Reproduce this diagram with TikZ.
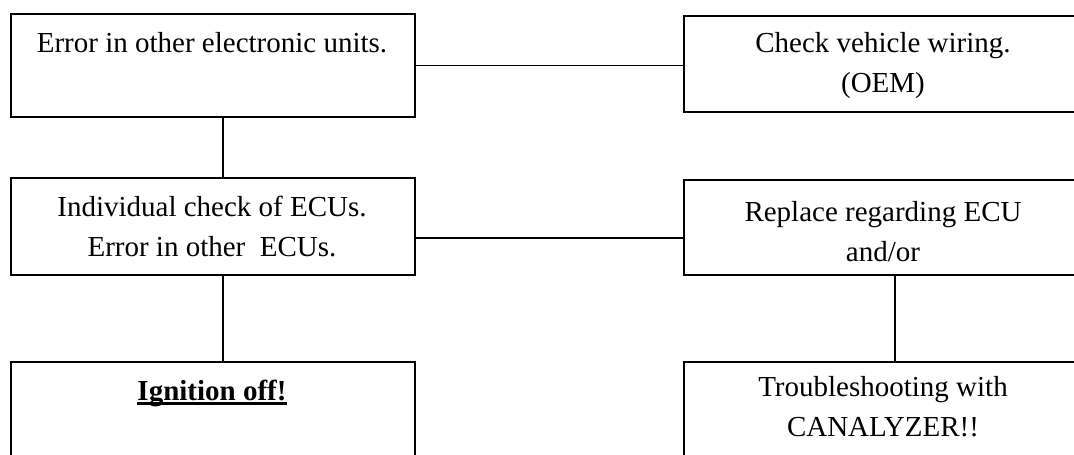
\documentclass[tikz,border=0pt]{standalone}
\usepackage{fontspec}
\setmainfont{Liberation Serif}
\usepackage{tikz}
\usetikzlibrary{calc, positioning}

\tikzset{
  box/.style={draw, line width=2pt, inner sep=0pt, anchor=north west},
  leftbox/.style={box, minimum width=404pt},
  rightbox/.style={box, minimum width=400pt},
  txt/.style={inner sep=0pt, align=center, anchor=base, font=\fontsize{29}{40}\selectfont},
  link/.style={line width=1.5pt}
}

\begin{document}
\begin{tikzpicture}[x=1pt, y=-1pt]
    \useasboundingbox (0,0) rectangle (1074,455);
    \clip (0,0) rectangle (1074,455);

    % boxes, left column
    \node[leftbox, minimum height=103pt] (err) at (10,13) {};
    \node[leftbox, minimum height=97pt] (indiv) at (10,177) {};
    \node[leftbox, minimum height=110pt] (ign) at (10,361) {};

    % boxes, right column
    \node[rightbox, minimum height=96pt] (wiring) at (683,15) {};
    \node[rightbox, minimum height=95pt] (replace) at (683,179) {};
    \node[rightbox, minimum height=110pt] (canal) at (683,361) {};

    % texts (base = last line)
    \node[txt] (errt) at (212,52) {Error in other electronic units.};
    \node[txt] (wiringt) at (883,92) {Check vehicle wiring.\\(OEM)};
    \node[txt] (indivt) at (212,256) {Individual check of ECUs.\\Error in other \ ECUs.};
    \node[txt] (replacet) at (883,261) {Replace regarding ECU\\and/or};
    \node[txt] (ignt) at (212,400) {\textbf{Ignition off!}};
    \node[txt] (canalt) at (883,436) {Troubleshooting with\\CANALYZER!!};

    % underline
    \draw[line width=2.5pt] ([yshift=-3.5pt]ignt.base west) -- ([yshift=-3.5pt]ignt.base east);

    % connections
    \draw[link] (err.east) -- (err.east -| wiring.west);
    \draw[link] ([xshift=10pt]err.south) -- ([xshift=10pt]indiv.north);
    \draw[link] ([yshift=-11.5pt]indiv.east) -- ([yshift=-11.5pt]indiv.east -| replace.west);
    \draw[link] ([xshift=10pt]indiv.south) -- ([xshift=10pt]ign.north);
    \draw[link] ([xshift=11pt]replace.south) -- ([xshift=11pt]canal.north);
\end{tikzpicture}
\end{document}
